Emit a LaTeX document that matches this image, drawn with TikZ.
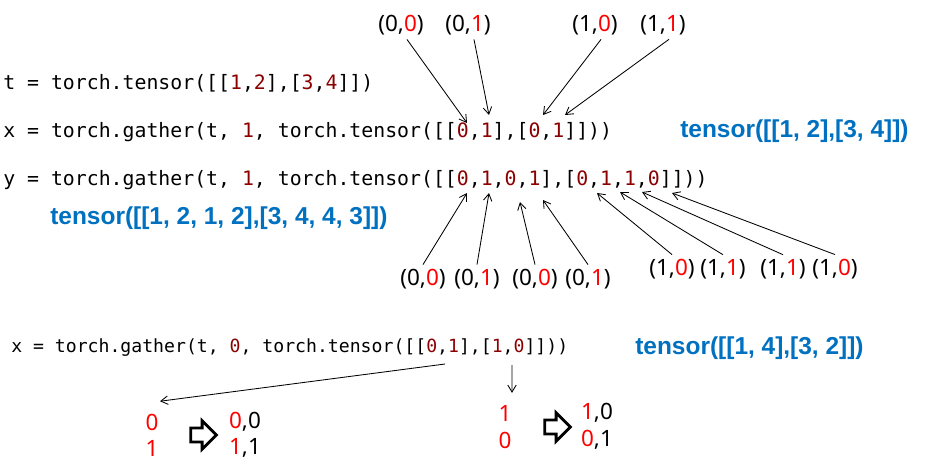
\documentclass[tikz,border=0pt]{standalone}
\usepackage{fontspec}
\setmainfont{Noto Sans}
\setmonofont{DejaVu Sans Mono}
\newfontfamily\resfont{Liberation Sans}
\usetikzlibrary{arrows.meta,shapes.arrows}
\definecolor{codered}{HTML}{8B0000}
\definecolor{resblue}{HTML}{0070C0}
\newcommand{\cnum}[1]{\textcolor{codered}{#1}}
\newcommand{\rnum}[1]{\textcolor{red}{#1}}

\begin{document}
\begin{tikzpicture}[
		x=0.025cm, y=-0.025cm,
		code/.style={anchor=west, inner sep=0pt, font=\ttfamily\fontsize{14.1}{17}\selectfont},
		smallcode/.style={code, font=\ttfamily\fontsize{12.9}{15}\selectfont},
		result/.style={anchor=west, inner sep=0pt, text=resblue, font=\resfont\bfseries\fontsize{17.4}{20}\selectfont},
		index/.style={inner sep=3pt, font=\fontsize{16}{19}\selectfont},
		pick/.style={-{Straight Barb[length=5pt,width=6pt]}, line width=0.6pt},
		hollow/.style={single arrow, draw=black, fill=white, line width=2pt,
		inner sep=0.14cm, minimum height=0.64cm, single arrow head extend=0.18cm}
		]
		\useasboundingbox (0,0) rectangle (928,470);
		% code lines
		\node[code] (codet) at (3,83) {t = torch.tensor([[\cnum{1},\cnum{2}],[\cnum{3},\cnum{4}]])};
		\node[code] (codex) at (3,132) {x = torch.gather(t, \cnum{1}, torch.tensor([[\cnum{0},\cnum{1}],[\cnum{0},\cnum{1}]]))};
		\node[code] (codey) at (3,180) {y = torch.gather(t, \cnum{1}, torch.tensor([[\cnum{0},\cnum{1},\cnum{0},\cnum{1}],[\cnum{0},\cnum{1},\cnum{1},\cnum{0}]]))};
		\node[smallcode] (codez) at (11,348) {x = torch.gather(t, \cnum{0}, torch.tensor([[\cnum{0},\cnum{1}],[\cnum{1},\cnum{0}]]))};
		% results
		\node[result] (resx) at (680,131) {tensor([[1, 2],[3, 4]])};
		\node[result] (resy) at (50,218) {tensor([[1, 2, 1, 2],[3, 4, 4, 3]])};
		\node[result] (resz) at (635,348) {tensor([[1, 4],[3, 2]])};
		% index pairs above x
		\node[index] (a1) at (401,25) {(0,\rnum{0})};
		\node[index] (a2) at (468,25) {(0,\rnum{1})};
		\node[index] (a3) at (595,25) {(1,\rnum{0})};
		\node[index] (a4) at (663,25) {(1,\rnum{1})};
		\coordinate (xa) at (467,123);
		\coordinate (xb) at (489,115);
		\coordinate (xc) at (543,115);
		\coordinate (xd) at (565,115);
		\draw[pick] ([xshift=0.15cm]a1.south) -- (xa);
		\draw[pick] ([xshift=0.15cm]a2.south) -- (xb);
		\draw[pick] ([xshift=0.15cm]a3.south) -- (xc);
		\draw[pick] ([xshift=0.15cm]a4.south) -- (xd);
		% index pairs below y
		\node[index] (u1) at (423,279) {(0,\rnum{0})};
		\node[index] (u2) at (477,279) {(0,\rnum{1})};
		\node[index] (u3) at (535,279) {(0,\rnum{0})};
		\node[index] (u4) at (588,279) {(0,\rnum{1})};
		\node[index] (u5) at (672,269) {(1,\rnum{0})};
		\node[index] (u6) at (723,269) {(1,\rnum{1})};
		\node[index] (u7) at (783,269) {(1,\rnum{1})};
		\node[index] (u8) at (835,269) {(1,\rnum{0})};
		\coordinate (ya) at (467,193);
		\coordinate (yb) at (489,193);
		\coordinate (yc) at (520,202);
		\coordinate (yd) at (543,200);
		\coordinate (ye) at (597,193);
		\coordinate (yf) at (620,192);
		\coordinate (yg) at (642,192);
		\coordinate (yh) at (672,193);
		\foreach \s/\e in {u1/ya,u2/yb,u3/yc,u4/yd,u5/ye,u6/yf,u7/yg,u8/yh}
			\draw[pick] (\s.north) -- (\e);
		% gather along dim 0
		\node[index] (b0) at (152,422) {\rnum{0}};
		\node[index] (b1) at (152,448) {\rnum{1}};
		\node[hollow] (h1) at (200,435) {};
		\node[index] (p0) at (245,422) {\rnum{0},0};
		\node[index] (p1) at (245,448) {\rnum{1},1};
		\node[index] (c1) at (505,413) {\rnum{1}};
		\node[index] (c0) at (505,440) {\rnum{0}};
		\node[hollow] (h2) at (554,427) {};
		\node[index] (q0) at (597,413) {\rnum{1},0};
		\node[index] (q1) at (597,440) {\rnum{0},1};
		\coordinate (za) at (445,364);
		\coordinate (zb) at (512,365);
		\draw[pick] (za) -- ([xshift=0.2cm,yshift=0.2cm]b0.north);
		\draw[pick] (zb) -- ([xshift=0.175cm,yshift=0.19cm]c1.north);
	\end{tikzpicture}
\end{document}
